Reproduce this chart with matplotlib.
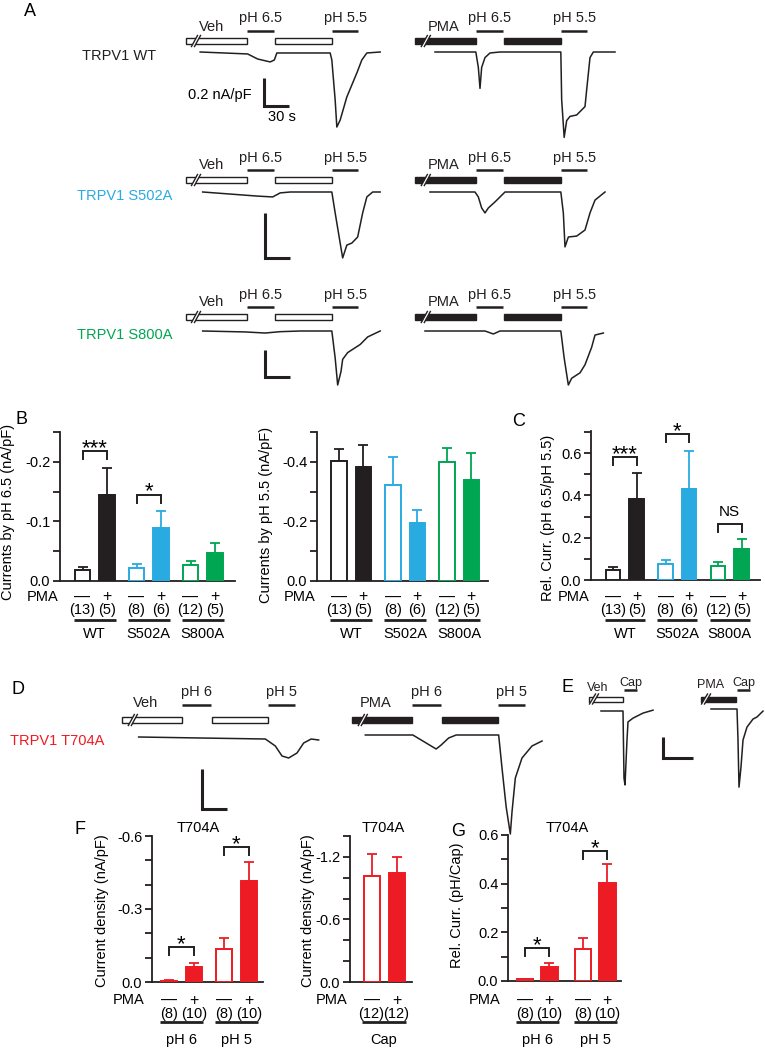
import matplotlib
matplotlib.use("Agg")
import matplotlib.pyplot as plt
from matplotlib import transforms as mtrans
from matplotlib.patches import Rectangle, Polygon
from matplotlib.ticker import FixedLocator, FuncFormatter

plt.rcParams['font.family'] = ['Liberation Sans', 'DejaVu Sans']
plt.rcParams['axes.unicode_minus'] = False
FS = 10.5

BLACK = '#231f20'
BLUE = '#29abe2'
GREEN = '#00a651'
RED = '#ed1c24'

# ======================= DATA =======================
# Panel A traces: time (s) and current density (nA/pF)
wt_veh_t = [17, 74, 86, 101, 106, 109, 173, 175, 179, 181, 185, 193, 205, 211, 217, 233]
wt_veh_i = [0, -0.014, -0.05, -0.071, -0.057, -0.007, -0.007, -0.057, -0.343, -0.536,
            -0.486, -0.321, -0.15, -0.057, -0.007, 0]
wt_pma_t = [24, 73, 76, 78, 80, 84, 90, 102, 175, 176, 179, 182, 186, 194, 204, 206, 210, 214, 240]
wt_pma_i = [0, 0, -0.11, -0.26, -0.11, -0.04, -0.007, 0, 0, -0.34, -0.61, -0.49, -0.46,
            -0.45, -0.39, -0.27, -0.04, 0, 0]
s502a_veh_t = [20, 85, 104, 113, 125, 175, 179, 185, 188, 193, 199, 206, 212, 217, 224, 233]
s502a_veh_i = [0, -0.018, -0.022, -0.004, 0, 0, -0.093, -0.227, -0.293, -0.236, -0.227,
               -0.2, -0.093, -0.022, 0, 0]
s502a_pma_t = [18, 72, 76, 80, 84, 88, 96, 102, 108, 175, 178, 180, 184, 194, 204, 210, 216, 228]
s502a_pma_i = [0, 0, -0.022, -0.071, -0.093, -0.071, -0.044, -0.022, 0, 0, -0.093, -0.244,
               -0.2, -0.196, -0.169, -0.093, -0.036, 0]
s800a_veh_t = [20, 71, 95, 113, 137, 175, 179, 182, 186, 188, 194, 209, 218, 233]
s800a_veh_i = [0, -0.007, -0.015, -0.005, 0, 0, -0.2, -0.4, -0.3, -0.21, -0.16, -0.1, -0.044, 0]
s800a_pma_t = [12, 84, 94, 102, 175, 179, 184, 188, 198, 204, 212, 216, 226]
s800a_pma_i = [0, 0, -0.022, 0, 0, -0.2, -0.4, -0.35, -0.31, -0.25, -0.12, -0.03, -0.015]

# Panel D traces (T704A)
t704a_veh_t = [20, 94, 172, 184, 192, 200, 210, 218, 227, 236]
t704a_veh_i = [0, -0.005, -0.01, -0.045, -0.095, -0.105, -0.08, -0.03, -0.01, -0.015]
t704a_pma_t = [16, 73, 89, 101, 107, 116, 125, 176, 180, 185, 190, 192, 196, 204, 216, 228]
t704a_pma_i = [0, 0, -0.04, -0.07, -0.05, -0.015, 0, 0, -0.165, -0.36, -0.495, -0.385,
               -0.215, -0.115, -0.055, -0.03]

# Panel E traces (capsaicin)
cap_veh_t = [12, 34, 35, 36, 38, 39, 44, 54, 64]
cap_veh_i = [0, 0, -1.6, -1.76, -0.69, -0.26, -0.17, -0.05, 0.02]
cap_pma_t = [10, 36, 37, 38, 40, 42, 46, 52, 56, 62]
cap_pma_i = [0, 0, -0.74, -1.86, -1.38, -0.74, -0.43, -0.24, -0.19, -0.05]

# Application protocols (s)
a_bars = [(0, 73), (107, 175)]
a_lines = [(73, 106), (175, 207)]
a_line_labels = ['pH 6.5', 'pH 5.5']
d_bars = [(0, 72), (108, 175)]
d_lines = [(72, 107), (175, 208)]
d_line_labels = ['pH 6', 'pH 5']
e_bars = [(0, 34)]
e_lines = [(35, 48)]
e_line_labels = ['Cap']

# Panel B / C bar data
bc_groups = ['WT', 'S502A', 'S800A']
bc_colors = [BLACK, BLUE, GREEN]
bc_n = ['(13)', '(5)', '(8)', '(6)', '(12)', '(5)']
b_ph65_mean = [-0.019, -0.145, -0.022, -0.089, -0.027, -0.047]
b_ph65_sem = [0.005, 0.045, 0.007, 0.029, 0.007, 0.017]
b_ph55_mean = [-0.403, -0.383, -0.323, -0.195, -0.400, -0.340]
b_ph55_sem = [0.041, 0.074, 0.094, 0.044, 0.047, 0.090]
c_rel_mean = [0.047, 0.383, 0.076, 0.43, 0.068, 0.146]
c_rel_sem = [0.014, 0.123, 0.019, 0.18, 0.019, 0.048]

# Panel F / G bar data (T704A)
fg_groups = ['pH 6', 'pH 5']
fg_n = ['(8)', '(10)', '(8)', '(10)']
f_ph_mean = [-0.005, -0.06, -0.135, -0.416]
f_ph_sem = [0.002, 0.017, 0.047, 0.079]
f_cap_mean = [-1.02, -1.046]
f_cap_sem = [0.21, 0.154]
f_cap_n = ['(12)', '(12)']
g_rel_mean = [0.007, 0.059, 0.13, 0.401]
g_rel_sem = [0.002, 0.014, 0.048, 0.078]

# ======================= FIGURE =======================
W, H = 765, 1050
fig = plt.figure(figsize=(W / 100, H / 100), dpi=100)
ov = fig.add_axes([0, 0, 1, 1])
ov.set_xlim(0, W)
ov.set_ylim(H, 0)
ov.axis('off')


def trace_tr(x0, base, sx, k):
    return mtrans.Affine2D().scale(sx, -k).translate(x0, base) + ov.transData


def draw_trace(x0, base, sx, k, t, i, lw=1.1):
    ov.plot(t, i, color=BLACK, lw=lw, transform=trace_tr(x0, base, sx, k),
            solid_joinstyle='round', clip_on=False)


def draw_protocol(x0, sx, bar_y, line_y, bars, lines, filled, brk_t, line_labels,
                  label_y, cond, cond_t, cond_y, bar_h=6, fs=FS):
    tr = mtrans.blended_transform_factory(trace_tr(x0, 0, sx, 1), ov.transData)
    for a, b in bars:
        ov.add_patch(Rectangle((a, bar_y - bar_h / 2), b - a, bar_h, transform=tr,
                               facecolor=BLACK if filled else 'white',
                               edgecolor=BLACK, lw=1.0, clip_on=False))
    for (a, b), lab in zip(lines, line_labels):
        ov.plot([a, b], [line_y, line_y], transform=tr, color=BLACK, lw=1.8,
                solid_capstyle='butt', clip_on=False)
        ov.text((a + b) / 2, label_y, lab, transform=tr, ha='center', va='center',
                fontsize=fs, color=BLACK)
    ov.text(cond_t, cond_y, cond, transform=tr, ha='center', va='center',
            fontsize=fs, color=BLACK)
    # break mark
    xb = x0 + brk_t * sx
    hh = bar_h / 2 + 2.5
    ov.add_patch(Polygon([(xb - 4.5, bar_y + hh), (xb - 1.5, bar_y + hh),
                          (xb + 4.5, bar_y - hh), (xb + 1.5, bar_y - hh)],
                         closed=True, facecolor='white', edgecolor='none', zorder=3))
    for dx in (-1.5, 1.5):
        ov.plot([xb + dx - 3, xb + dx + 3], [bar_y + hh, bar_y - hh], color=BLACK,
                lw=1.0, zorder=4)


def draw_scalebar(corner, sx, k, t_len, i_len):
    tr = trace_tr(corner[0], corner[1], sx, k)
    ov.plot([0, 0, t_len], [i_len, 0, 0], transform=tr, color=BLACK, lw=2.2,
            solid_joinstyle='miter', solid_capstyle='butt')


SX = 1 / 1.2
# ---------------- Panel A ----------------
a_rows = [
    dict(base=52, bar=41, line=31, ph=18, cond=27, k=140, sb=(264, 106),
         veh=(wt_veh_t, wt_veh_i), pma=(wt_pma_t, wt_pma_i),
         name='TRPV1 WT', color=BLACK, name_x=82),
    dict(base=192, bar=180, line=170, ph=158, cond=165, k=225, sb=(265, 258),
         veh=(s502a_veh_t, s502a_veh_i), pma=(s502a_pma_t, s502a_pma_i),
         name='TRPV1 S502A', color=BLUE, name_x=77),
    dict(base=331, bar=317, line=307, ph=295, cond=302, k=135, sb=(265, 377),
         veh=(s800a_veh_t, s800a_veh_i), pma=(s800a_pma_t, s800a_pma_i),
         name='TRPV1 S800A', color=GREEN, name_x=77),
]
for r in a_rows:
    draw_trace(186, r['base'], SX, r['k'], *r['veh'])
    draw_trace(415, r['base'], SX, r['k'], *r['pma'])
    draw_protocol(186, SX, r['bar'], r['line'], a_bars, a_lines, False, 12,
                  a_line_labels, r['ph'], 'Veh', 31, r['cond'])
    draw_protocol(415, SX, r['bar'], r['line'], a_bars, a_lines, True, 13,
                  a_line_labels, r['ph'], 'PMA', 34, r['cond'])
    draw_scalebar(r['sb'], SX, r['k'], 30, 0.2)
    ov.text(r['name_x'], r['base'] + 4, r['name'], ha='left', va='center',
            fontsize=FS, color=r['color'])
ov.text(252, 95, '0.2 nA/pF', ha='right', va='center', fontsize=FS)
ov.text(282, 117, '30 s', ha='center', va='center', fontsize=FS)

# ---------------- Panel D ----------------
draw_trace(122, 737, SX, 200, t704a_veh_t, t704a_veh_i)
draw_trace(352, 735, SX, 200, t704a_pma_t, t704a_pma_i)
draw_protocol(122, SX, 720, 705, d_bars, d_lines, False, 13, d_line_labels, 692,
              'Veh', 28, 703)
draw_protocol(352, SX, 720, 705, d_bars, d_lines, True, 13, d_line_labels, 692,
              'PMA', 28, 703)
draw_scalebar((202, 809), SX, 200, 30, 0.2)
ov.text(10, 741, 'TRPV1 T704A', ha='left', va='center', fontsize=FS, color=RED)

# ---------------- Panel E ----------------
draw_trace(589, 711, 1.0, 42, cap_veh_t, cap_veh_i)
draw_trace(701, 709, 1.0, 42, cap_pma_t, cap_pma_i)
draw_protocol(589, 1.0, 699, 690, e_bars, e_lines, False, 5, e_line_labels, 683,
              'Veh', 9, 688, bar_h=5, fs=9)
draw_protocol(701, 1.0, 699, 690, [(0, 35)], [(36, 49)], True, 5, e_line_labels, 683,
              'PMA', 10, 685, bar_h=5, fs=9)
draw_scalebar((663, 758), 1.0, 42, 30, 0.5)


# ---------------- Bar panels ----------------
def bar_panel(rect, ylim, u, first_off, pair, width_px, vals, sems, colors, nlab,
              groups, sigs, major, minor, ylabel, ylab_xy, rows_y, title=None,
              pma_gap=16):
    l, r, t, b = rect
    ax = fig.add_axes([l / W, 1 - b / H, (r - l) / W, (b - t) / H])
    ax.set_facecolor('none')
    ngr = len(groups)
    xs = [g + j * pair for g in range(ngr) for j in (0, 1)]
    x_lo = -first_off / u
    ax.set_xlim(x_lo, x_lo + (r - l) / u)
    ax.set_ylim(*ylim)
    w = width_px / u
    for idx, (x, v, s) in enumerate(zip(xs, vals, sems)):
        c = colors[idx // 2]
        filled = idx % 2 == 1
        if v < 0:
            yerr = [[s], [0]]
        else:
            yerr = [[0], [s]]
        ax.errorbar([x], [v], yerr=yerr, fmt='none', ecolor=c, elinewidth=1.3,
                    capsize=3.6, capthick=1.3, zorder=2)
        ax.bar([x], [v], width=w, facecolor=c if filled else 'white', edgecolor=c,
               linewidth=1.4, zorder=3)
    for sp in ('top', 'right'):
        ax.spines[sp].set_visible(False)
    for sp in ('left', 'bottom'):
        ax.spines[sp].set_linewidth(1.3)
        ax.spines[sp].set_color(BLACK)
    ax.set_xticks([])
    ax.yaxis.set_major_locator(FixedLocator(major))
    ax.yaxis.set_minor_locator(FixedLocator(minor))
    ax.yaxis.set_major_formatter(FuncFormatter(lambda v, p: '%.1f' % v if abs(v) > 1e-9 else '0.0'))
    ax.tick_params(axis='y', which='both', direction='out', length=5, width=1.3,
                   labelsize=FS, pad=2, color=BLACK)
    # texts below axis
    bt = mtrans.blended_transform_factory(ax.transData, ov.transData)
    pma_y, n_y, ul_y, grp_y = rows_y
    pt = mtrans.offset_copy(bt, fig=fig, x=-pma_gap, y=0, units='dots')
    ov.text(xs[0] - w / 2, pma_y, 'PMA', transform=pt, ha='right', va='center',
            fontsize=FS)
    for idx, x in enumerate(xs):
        ov.text(x, pma_y, '—' if idx % 2 == 0 else '+', transform=bt, ha='center',
                va='center', fontsize=FS + 1)
        ov.text(x, n_y, nlab[idx], transform=bt, ha='center', va='center',
                fontsize=FS)
    for g in range(ngr):
        x0, x1 = xs[2 * g] - w / 2 - 0.02, xs[2 * g + 1] + w / 2 + 0.02
        ov.plot([x0, x1], [ul_y, ul_y], transform=bt, color=BLACK, lw=2.0,
                solid_capstyle='butt')
        ov.text((xs[2 * g] + xs[2 * g + 1]) / 2, grp_y, groups[g], transform=bt,
                ha='center', va='center', fontsize=FS)
    # significance brackets
    for g, level, lab in sigs:
        ypx = ov.transData.inverted().transform(ax.transData.transform((0, level)))[1]
        xa, xb = xs[2 * g], xs[2 * g + 1]
        ov.plot([xa, xa, xb, xb], [ypx + 8, ypx, ypx, ypx + 8], transform=bt,
                color=BLACK, lw=1.4, solid_joinstyle='miter')
        if lab == 'NS':
            ov.text((xa + xb) / 2, ypx - 5, lab, transform=bt, ha='center',
                    va='bottom', fontsize=FS + 0.5)
        else:
            ov.text((xa + xb) / 2, ypx + 3, lab, transform=bt, ha='center',
                    va='baseline', fontsize=16)
    ov.text(ylab_xy[0], ylab_xy[1], ylabel, rotation=90, ha='center', va='center',
            fontsize=FS)
    if title:
        ov.text(title[0], title[1], title[2], ha='center', va='center', fontsize=FS)
    return ax


bc_rows = (597, 610, 620, 634)
bar_panel((60, 235, 432, 581), (0, -0.25), 54, 22.5, 0.45, 15.5, b_ph65_mean,
          b_ph65_sem, bc_colors, bc_n, bc_groups,
          [(0, -0.218, '***'), (1, -0.145, '*')],
          [0, -0.1, -0.2], [-0.05, -0.15, -0.25],
          'Currents by pH 6.5 (nA/pF)', (8, 512), bc_rows)
bar_panel((317, 488, 432, 581), (0, -0.5), 54, 22, 0.45, 15.5, b_ph55_mean,
          b_ph55_sem, bc_colors, bc_n, bc_groups, [],
          [0, -0.2, -0.4], [-0.1, -0.3, -0.5],
          'Currents by pH 5.5 (nA/pF)', (266, 515), bc_rows)
bar_panel((591, 760, 431, 580), (0, 0.705), 52.5, 22, 0.45, 14.5, c_rel_mean,
          c_rel_sem, bc_colors, bc_n, bc_groups,
          [(0, 0.58, '***'), (1, 0.69, '*'), (2, 0.265, 'NS')],
          [0, 0.2, 0.4, 0.6], [0.1, 0.3, 0.5, 0.7],
          'Rel. Curr. (pH 6.5/pH 5.5)', (548, 518), bc_rows)

fg_rows = (1000, 1014, 1022, 1040)
bar_panel((152, 263, 836, 982), (0, -0.6), 55, 17, 0.455, 16, f_ph_mean, f_ph_sem,
          [RED, RED], fg_n, fg_groups,
          [(0, -0.144, '*'), (1, -0.556, '*')],
          [0, -0.3, -0.6], [-0.1, -0.2, -0.4, -0.5],
          'Current density (nA/pF)', (102, 911), fg_rows, title=(198, 828, 'T704A'))
bar_panel((350, 412, 836, 982), (0, -1.4), 55, 21.5, 0.455, 16, f_cap_mean,
          f_cap_sem, [RED], f_cap_n, ['Cap'], [],
          [0, -0.6, -1.2], [-0.2, -0.4, -0.8, -1.0, -1.4],
          'Current density (nA/pF)', (308, 911), fg_rows, title=(383, 828, 'T704A'))
bar_panel((508, 621, 835, 981), (0, 0.6), 58, 17, 0.42, 16.5, g_rel_mean, g_rel_sem,
          [RED, RED], fg_n, fg_groups,
          [(0, 0.1355, '*'), (1, 0.534, '*')],
          [0, 0.2, 0.4, 0.6], [0.1, 0.3, 0.5],
          'Rel. Curr. (pH/Cap)', (457, 905), fg_rows, title=(567, 828, 'T704A'))

# Panel letters
for lab, x, y in [('A', 30, 11), ('B', 22, 420), ('C', 519, 421), ('D', 18, 690),
                  ('E', 568, 688), ('F', 80, 830), ('G', 458, 831)]:
    ov.text(x, y, lab, ha='center', va='center', fontsize=13)

fig.savefig('out.png', dpi=100)
